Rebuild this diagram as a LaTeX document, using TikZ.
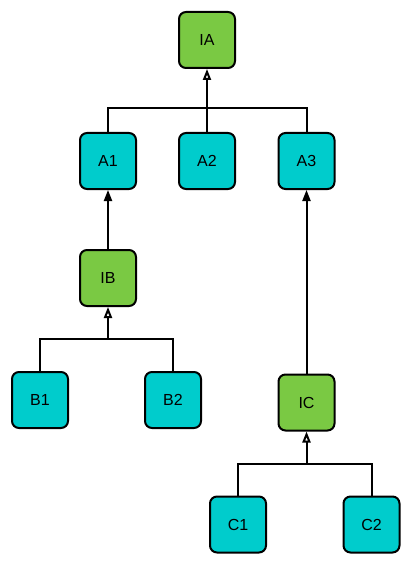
\documentclass[tikz,border=0pt]{standalone}
\usepackage{fontspec}
\setmainfont{Liberation Sans}
\usetikzlibrary{arrows.meta}
\definecolor{grn}{HTML}{7AC943}
\definecolor{cyn}{HTML}{00CCCC}
\begin{document}
\begin{tikzpicture}[x=1pt,y=-1pt,
  box/.style={draw=black,line width=2pt,rounded corners=7pt,minimum width=56pt,minimum height=56pt,inner sep=0pt,font=\fontsize{16}{19}\selectfont},
  gbox/.style={box,fill=grn},
  cbox/.style={box,fill=cyn},
  conn/.style={line width=2pt},
  openarr/.style={conn,-{Triangle[open,length=11pt,width=8pt,fill=white]}},
  fullarr/.style={conn,-{Triangle[length=11pt,width=8pt]}}]
\useasboundingbox (0,0) rectangle (412,564);
\node[gbox] (IA) at (207,40) {IA};
\node[cbox] (A1) at (108,161) {A1};
\node[cbox] (A2) at (207,161) {A2};
\node[cbox] (A3) at (306.5,161) {A3};
\node[gbox] (IB) at (108,278) {IB};
\node[cbox] (B1) at (40,400) {B1};
\node[cbox] (B2) at (173,400) {B2};
\node[gbox] (IC) at (306.5,402.5) {IC};
\node[cbox] (C1) at (238,524.5) {C1};
\node[cbox] (C2) at (371.5,524.5) {C2};
\coordinate (jA) at (207,108);
\coordinate (jB) at (108,339);
\coordinate (jC) at (306.5,464);
\draw[conn] (A1.north) |- (jA) -| (A3.north);
\draw[conn] (A2.north) -- (jA);
\draw[openarr] (jA) -- (IA.south);
\draw[conn] (B1.north) |- (jB) -| (B2.north);
\draw[openarr] (jB) -- (IB.south);
\draw[conn] (C1.north) |- (jC) -| (C2.north);
\draw[openarr] (jC) -- (IC.south);
\draw[fullarr] (IB.north) -- (A1.south);
\draw[fullarr] (IC.north) -- (A3.south);
\end{tikzpicture}
\end{document}
